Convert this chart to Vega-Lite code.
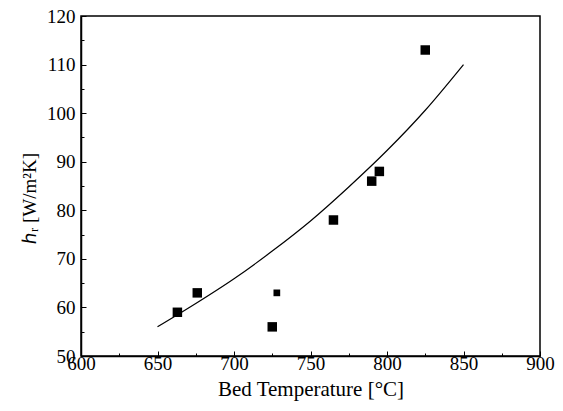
{
  "$schema": "https://vega.github.io/schema/vega-lite/v6.json",
  "width": 459,
  "height": 340,
  "autosize": {"type": "none"},
  "padding": {"left": 81, "top": 16, "right": 23, "bottom": 55},
  "background": "white",
  "config": {
    "view": {"stroke": "black", "strokeWidth": 1.5},
    "font": "Liberation Serif"
  },
  "datasets": {
    "points": [
      {"T": 663, "h": 59, "group": "main"},
      {"T": 676, "h": 63, "group": "main"},
      {"T": 725, "h": 56, "group": "main"},
      {"T": 728, "h": 63, "group": "extra"},
      {"T": 765, "h": 78, "group": "main"},
      {"T": 790, "h": 86, "group": "main"},
      {"T": 795, "h": 88, "group": "main"},
      {"T": 825, "h": 113, "group": "main"}
    ],
    "fit": [
      {"T": 650, "h": 56.0},
      {"T": 675, "h": 60.8},
      {"T": 700, "h": 65.9},
      {"T": 725, "h": 71.6},
      {"T": 750, "h": 77.8},
      {"T": 775, "h": 84.8},
      {"T": 800, "h": 92.3},
      {"T": 825, "h": 100.6},
      {"T": 850, "h": 110.0}
    ]
  },
  "encoding": {
    "x": {
      "field": "T",
      "type": "quantitative",
      "scale": {"domain": [600, 900], "nice": false, "zero": false},
      "axis": {
        "title": "Bed Temperature [°C]",
        "values": [600, 625, 650, 675, 700, 725, 750, 775, 800, 825, 850, 875, 900],
        "labelExpr": "datum.value % 50 === 0 ? datum.label : ''",
        "labelOverlap": false,
        "labelFlush": false,
        "grid": false,
        "domainColor": "black",
        "domainWidth": 1.5,
        "tickColor": "black",
        "tickWidth": 1,
        "tickSize": {"condition": {"test": "datum.value % 50 === 0", "value": -5}, "value": -3},
        "labelFontSize": 19,
        "labelColor": "black",
        "labelPadding": 3,
        "titleFontSize": 21,
        "titleFontWeight": "normal",
        "titleColor": "black",
        "titlePadding": 3
      }
    },
    "y": {
      "field": "h",
      "type": "quantitative",
      "scale": {"domain": [50, 120], "nice": false, "zero": false},
      "axis": {
        "title": "ℎᵣ [W/m²K]",
        "values": [50, 55, 60, 65, 70, 75, 80, 85, 90, 95, 100, 105, 110, 115, 120],
        "labelExpr": "datum.value % 10 === 0 ? datum.label : ''",
        "labelOverlap": false,
        "labelFlush": false,
        "grid": false,
        "domainColor": "black",
        "domainWidth": 1.5,
        "tickColor": "black",
        "tickWidth": 1,
        "tickSize": {"condition": {"test": "datum.value % 10 === 0", "value": -5}, "value": -3},
        "labelFontSize": 19,
        "labelColor": "black",
        "labelPadding": 11,
        "titleFontSize": 19,
        "titleFontWeight": "normal",
        "titleColor": "black",
        "titlePadding": 7,
        "titleY": 182
      }
    }
  },
  "layer": [
    {
      "data": {"name": "fit"},
      "mark": {"type": "line", "color": "black", "strokeWidth": 1.2, "interpolate": "monotone"}
    },
    {
      "data": {"name": "points"},
      "mark": {"type": "square", "filled": true, "color": "black", "opacity": 1},
      "encoding": {
        "size": {
          "field": "group",
          "type": "nominal",
          "scale": {"domain": ["main", "extra"], "range": [90, 45]},
          "legend": null
        }
      }
    }
  ]
}
